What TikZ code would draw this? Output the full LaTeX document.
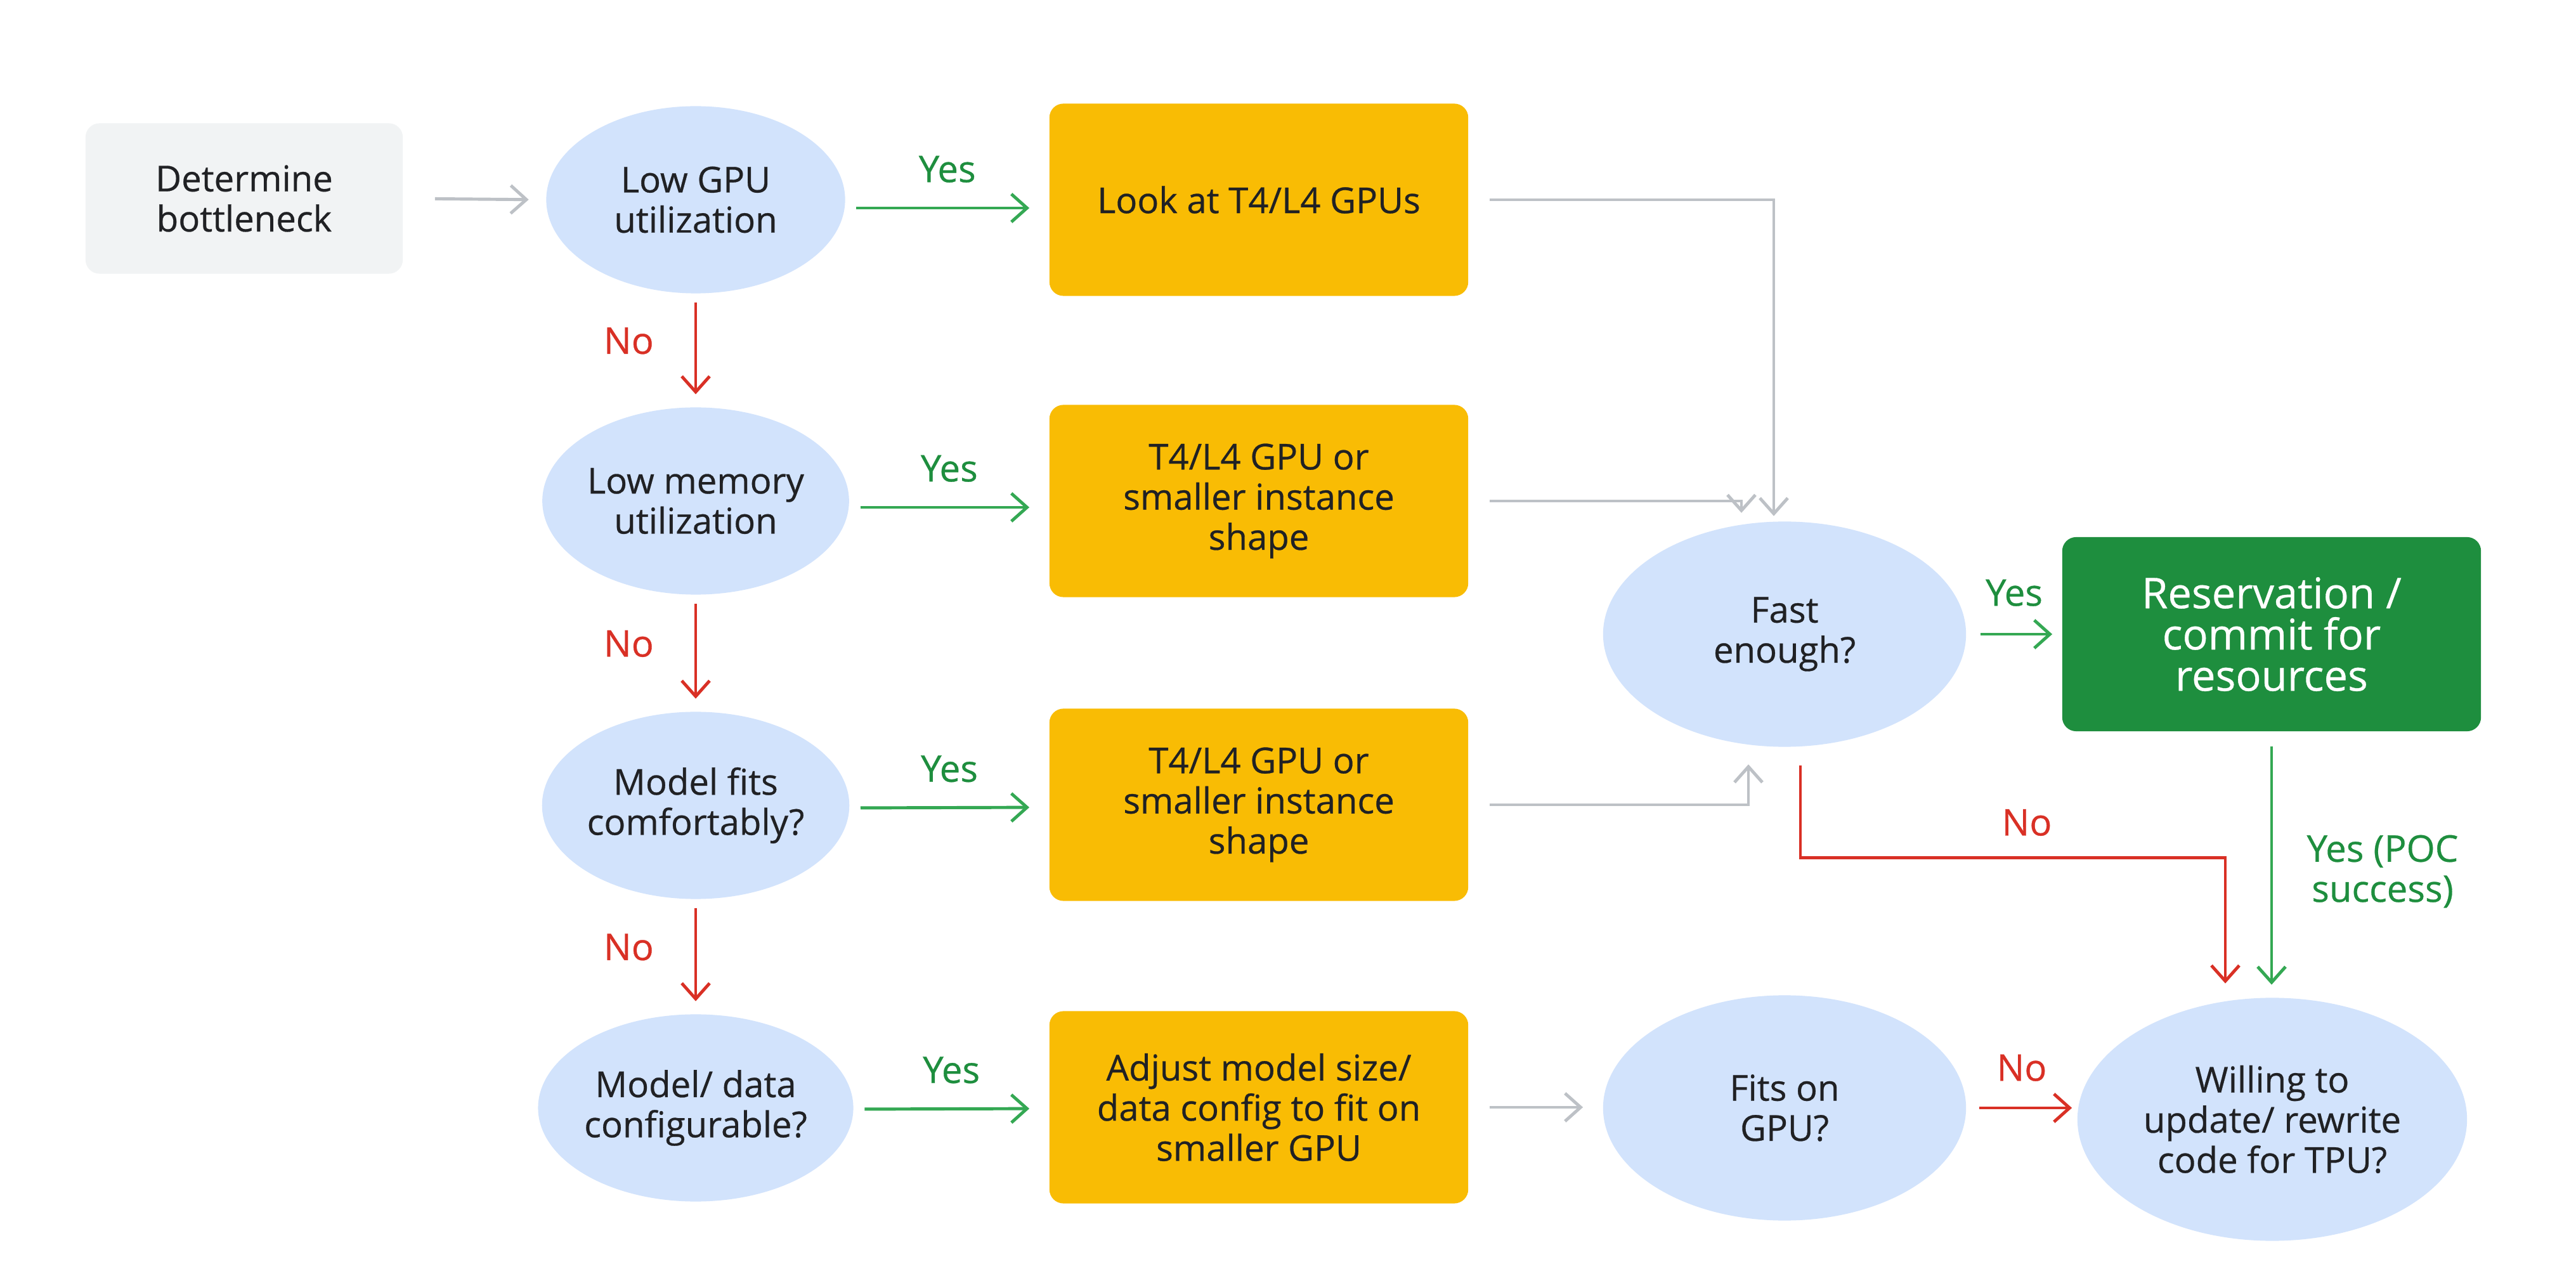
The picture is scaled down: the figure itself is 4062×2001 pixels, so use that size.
\documentclass[tikz,border=0pt]{standalone}
\usepackage{fontspec}
\setmainfont{Open Sans}[FakeBold=0.5]
\usetikzlibrary{shapes.geometric,arrows.meta,calc}
\definecolor{txt}{HTML}{202124}
\definecolor{qblue}{HTML}{D2E3FC}
\definecolor{yel}{HTML}{F9BC04}
\definecolor{dgreen}{HTML}{1E8E3E}
\definecolor{lgreen}{HTML}{34A853}
\definecolor{gred}{HTML}{D93025}
\definecolor{ggrey}{HTML}{BDC1C6}
\definecolor{lgbox}{HTML}{F1F3F4}
\tikzset{
  body/.style={font=\fontsize{16}{18}\selectfont, text=txt, align=center},
  ell/.style={body, ellipse, fill=qblue, inner sep=0pt, minimum width=4.71cm, minimum height=2.95cm},
  bigell/.style={ell, minimum width=5.72cm, minimum height=3.55cm},
  ybox/.style={body, rectangle, rounded corners=0.22cm, fill=yel, inner sep=0pt, minimum width=6.6cm, minimum height=3.03cm},
  gbox/.style={rectangle, rounded corners=0.22cm, fill=lgbox, inner sep=0pt, minimum width=5cm, minimum height=2.37cm, body},
  resbox/.style={rectangle, rounded corners=0.22cm, fill=dgreen, inner sep=0pt, minimum width=6.6cm, minimum height=3.06cm, align=center, text=white, font=\fontsize{19}{18.5}\selectfont},
  conn/.style={line width=1.4pt, -{Straight Barb[length=7pt,width=12.5pt,line width=1.4pt]}},
  greyc/.style={conn, draw=ggrey},
  greenc/.style={conn, draw=lgreen},
  redc/.style={conn, draw=gred},
  lab/.style={font=\fontsize{16.5}{18}\selectfont, align=center},
  yeslab/.style={lab, text=dgreen},
  nolab/.style={lab, text=gred},
}
\begin{document}
\begin{tikzpicture}[x=0.01cm,y=-0.01cm]
\useasboundingbox[fill=white] (0,0) rectangle (4062,2001);

\node[gbox] (det) at (385,313) {Determine\\bottleneck};
\node[ell] (q1) at (1097,315) {Low GPU\\utilization};
\node[ell] (q2) at (1097,790) {Low memory\\utilization};
\node[ell] (q3) at (1097,1270) {Model fits\\comfortably?};
\node[ell] (q4) at (1097,1747) {Model/ data\\configurable?};

\node[ybox] (b1) at (1985,315) {Look at T4/L4 GPUs};
\node[ybox] (b2) at (1985,790) {T4/L4 GPU or\\smaller instance\\shape};
\node[ybox] (b3) at (1985,1269) {T4/L4 GPU or\\smaller instance\\shape};
\node[ybox] (b4) at (1985,1746) {Adjust model size/\\data config to fit on\\smaller GPU};

\node[bigell] (fast) at (2814,1000) {Fast\\enough?};
\node[bigell] (fits) at (2814,1747) {Fits on\\GPU?};
\node[resbox] (res) at (3582,1000) {Reservation /\\commit for\\resources};
\node[ell, minimum width=6.14cm, minimum height=3.83cm] (will) at (3583,1765) {Willing to\\update/ rewrite\\code for TPU?};

% start
\draw[greyc, shorten <=0.5cm, shorten >=0.27cm] (det.east) -- (q1.west);

% yes arrows
\foreach \q/\b/\dy in {q1/b1/13,q2/b2/10,q3/b3/4,q4/b4/2}{
  \draw[greenc, shorten <=0.17cm, shorten >=0.31cm] ($(\q.east)+(0,\dy)$) -- ($(\b.west)+(0,\dy)$)
    node[yeslab, midway, above=0.26cm] {Yes};
}
% no arrows
\foreach \a/\b in {q1/q2,q2/q3,q3/q4}{
  \draw[redc, shorten <=0.14cm, shorten >=0.2cm] (\a.south) -- (\b.north)
    node[nolab, midway, left=0.52cm, yshift=0.15cm] {No};
}

% grey to Fast enough
\draw[greyc, shorten <=0.33cm, shorten >=0.08cm] (b1.east) -| ($(fast.north)+(-17,0)$);
\draw[greyc, shorten <=0.33cm, shorten >=0.13cm] (b2.east) -| ($(fast.north)+(-68,0)$);
\draw[greyc, shorten <=0.33cm, shorten >=0.27cm] (b3.east) -| ($(fast.south)+(-57,0)$);

% Fast enough -> reservation
\draw[greenc, shorten <=0.22cm, shorten >=0.15cm] (fast.east) -- (fast.east -| res.west)
  node[yeslab, midway, above=0.3cm] {Yes};

% Fast enough -> willing (No)
\draw[redc] ($(fast.south)+(25,29)$) -- ($(fast.south)+(25,174)$) -| ($(will.north)+(-74,-22)$);
\node[nolab] (nofast) at (3196,1297) {No};

% reservation -> willing
\draw[greenc, shorten <=0.23cm, shorten >=0.2cm] (res.south) -- (res.south |- will.north);
\node[yeslab] (poc) at (3757,1374) {Yes (POC\\success)};

% b4 -> fits
\draw[greyc, shorten <=0.33cm, shorten >=0.31cm] (b4.east) -- (b4.east -| fits.west);
% fits -> willing
\draw[redc, shorten <=0.2cm, shorten >=0.08cm] (fits.east) -- (fits.east -| will.west)
  node[nolab, midway, above=0.28cm] {No};
\end{tikzpicture}
\end{document}
